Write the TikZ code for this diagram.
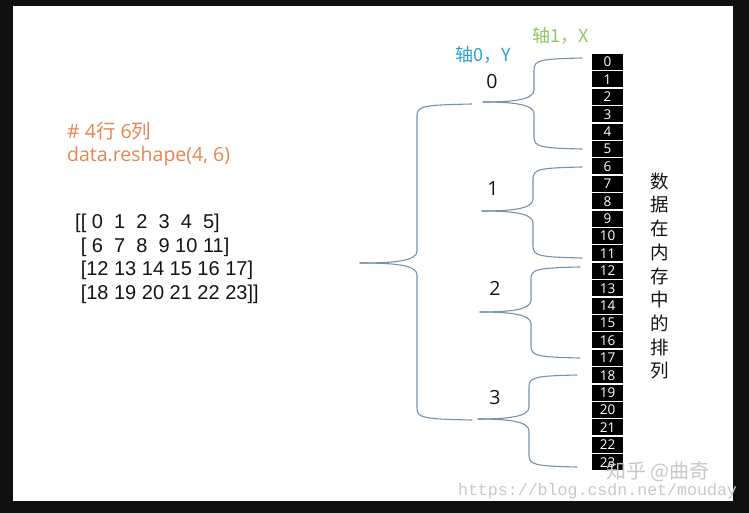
\documentclass[tikz,border=0pt]{standalone}
\usepackage{fontspec}
\setmainfont{Liberation Sans}
\newfontfamily\osans{Open Sans}
\newfontfamily\cjk{Noto Sans CJK SC}
\newfontfamily\wmono{Liberation Mono}
\definecolor{bracec}{RGB}{118,146,174}
\definecolor{orangec}{RGB}{232,132,82}
\definecolor{bluec}{RGB}{42,160,210}
\definecolor{greenc}{RGB}{150,196,100}
\definecolor{framec}{RGB}{15,15,15}
\definecolor{wmc}{RGB}{200,200,200}
\definecolor{inkc}{RGB}{20,20,20}
\newcommand\mybrace[6]{% #1 tx, #2 ty, #3 vx, #4 ex, #5 yt, #6 yb
  \draw[brace] (#4,#5) .. controls ({#3+6},{#5+1}) and (#3,{#5+2}) .. (#3,{#5+12})
    -- (#3,{#2-12}) .. controls (#3,{#2-2}) and ({#3-22},#2) .. (#1,#2);
  \draw[brace] (#4,#6) .. controls ({#3+6},{#6-1}) and (#3,{#6-2}) .. (#3,{#6-12})
    -- (#3,{#2+12}) .. controls (#3,{#2+2}) and ({#3-22},#2) .. (#1,#2);
}
\begin{document}
\begin{tikzpicture}[x=1pt,y=-1pt,
  brace/.style={draw=bracec, line width=1.1pt, line cap=round},
  cell/.style={fill=black, minimum width=31pt, minimum height=16pt, inner sep=0pt,
    text=white, font=\osans\fontsize{13.5}{13.5}\selectfont},
  lab/.style={inner sep=0pt, font=\osans\fontsize{19.5}{20}\selectfont, text=inkc},
  mat/.style={inner sep=0pt, anchor=base west, font=\fontsize{20}{24}\selectfont, text=inkc},
  code/.style={inner sep=0pt, anchor=base west, font=\osans\fontsize{19.5}{22}\selectfont, text=orangec},
  vert/.style={inner sep=0pt, font=\cjk\fontsize{18.5}{18.5}\selectfont, text=inkc},
  axis/.style={inner sep=0pt, font=\cjk\fontsize{18}{18}\selectfont}]
\useasboundingbox (0,0) rectangle (749,513);
\fill[framec] (0,0) rectangle (749,513);
\fill[white] (13,6) rectangle (733,501);

% memory cells
\foreach \i in {0,...,23}
  \node[cell] (c\i) at (607.5,{62+17.4*\i}) {\i};

% braces
\mybrace{360}{263}{417}{472}{104}{420}
\mybrace{483}{102}{534}{582}{58}{149}
\mybrace{482}{211}{533}{582}{167}{258}
\mybrace{480}{312}{531}{580}{267}{358}
\mybrace{478}{419}{529}{577}{375}{467}

% row labels
\node[lab] (r0) at (492,82) {0};
\node[lab] (r1) at (493,189) {1};
\node[lab] (r2) at (495,288) {2};
\node[lab] (r3) at (495,398) {3};

% axis labels
\node[axis, text=bluec] (ax0) at (483,55) {轴0，Y};
\node[axis, text=greenc] (ax1) at (561,36) {轴1，X};

% code
\node[code] (cm) at (67,139) {\# 4{\cjk 行} 6{\cjk 列}};
\node[code] (cr) at (67,162) {data.reshape(4, 6)};

% matrix
\node[mat] (m1) at (75,228) {[[\ 0\ \ 1\ \ 2\ \ 3\ \ 4\ \ 5]};
\node[mat] (m2) at (75,252) {\ [\ 6\ \ 7\ \ 8\ \ 9\ 10\ 11]};
\node[mat] (m3) at (75,275) {\ [12\ 13\ 14\ 15\ 16\ 17]};
\node[mat] (m4) at (75,299) {\ [18\ 19\ 20\ 21\ 22\ 23]]};

% vertical caption
\foreach \ch [count=\k from 0] in {数,据,在,内,存,中,的,排,列}
  \node[vert] (v\k) at (660,{181+23.75*\k}) {\ch};

% watermarks
\node[inner sep=0pt, text=wmc, font=\cjk\fontsize{20}{20}\selectfont] (wm1) at (658,472) {知乎 @曲奇};
\node[inner sep=0pt, text=wmc, font=\wmono\fontsize{16.6}{17}\selectfont] (wm2) at (597.5,491.5) {https://blog.csdn.net/mouday};
\end{tikzpicture}
\end{document}
